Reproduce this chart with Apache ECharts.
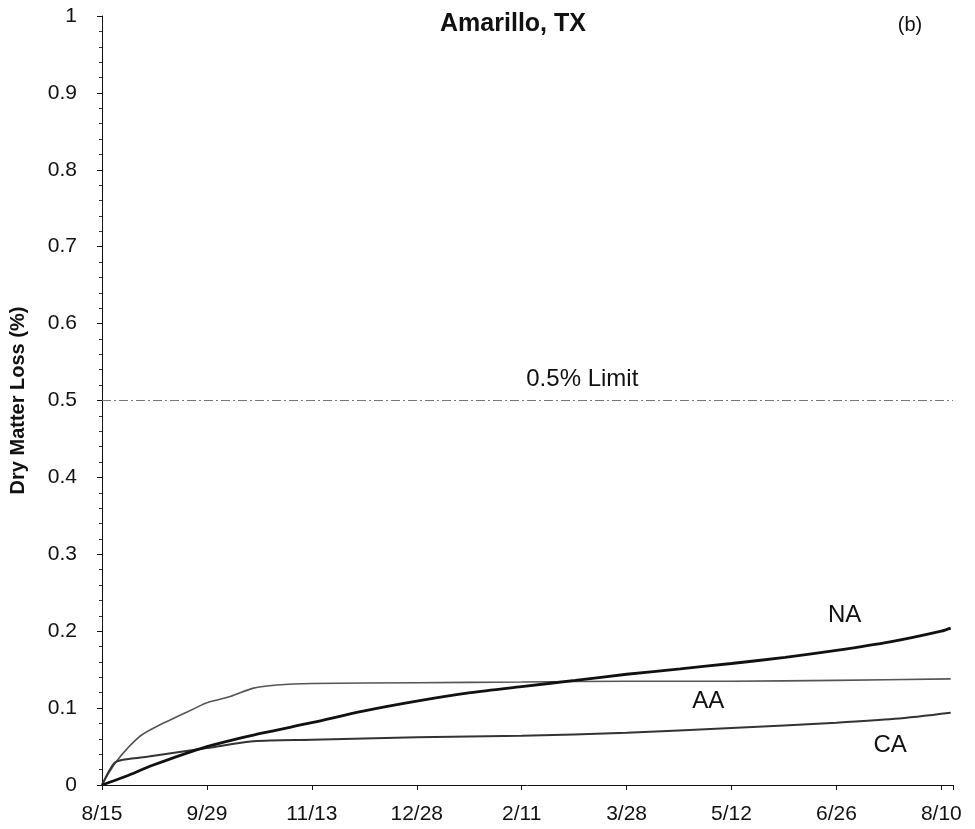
<!DOCTYPE html>
<html>
<head>
<meta charset="utf-8">
<script src="https://cdn.jsdelivr.net/npm/echarts@6/dist/echarts.min.js"></script>
<style>html,body{margin:0;padding:0;background:#fff}#c{width:975px;height:829px}</style>
</head>
<body>
<div id="c"></div>
<script>
// x = days since 8/15
const tickLabels = ['8/15','9/29','11/13','12/28','2/11','3/28','5/12','6/26','8/10'];
const naData = [[0,0],[10,0.011],[22,0.026],[45,0.05],[68,0.067],[90,0.081],[112,0.096],[135,0.109],[158,0.12],[180,0.128],[203,0.136],[225,0.144],[248,0.151],[270,0.158],[293,0.166],[315,0.175],[338,0.186],[360,0.2],[364,0.204]];
const aaData = [[0,0],[3,0.016],[6,0.03],[11,0.048],[17,0.065],[26,0.08],[33,0.09],[40,0.1],[45,0.107],[55,0.115],[65,0.126],[75,0.13],[90,0.132],[135,0.133],[180,0.134],[225,0.135],[270,0.135],[315,0.136],[364,0.138]];
const caData = [[0,0],[3,0.018],[6,0.03],[12,0.034],[20,0.037],[45,0.048],[65,0.057],[90,0.059],[135,0.062],[180,0.064],[225,0.068],[270,0.074],[315,0.081],[340,0.086],[364,0.094]];
const limitData = [[0,0.5],[365,0.5]];

const chart = echarts.init(document.getElementById('c'));
const font = 'Liberation Sans, Arial, sans-serif';
function lbl(name, x, y) {
  return {symbol:'circle', symbolSize:1, silent:true, itemStyle:{color:'rgba(0,0,0,0)'},
    data:[{coord:[x,y],
    label:{show:true, formatter:name, color:'#111', fontSize:24, fontFamily:font, position:'inside'}}]};
}
chart.setOption({
  animation:false,
  backgroundColor:'#fff',
  grid:{left:99, right:22, top:16, bottom:44, containLabel:false},
  graphic:[
    {type:'text', x:513, y:24, style:{text:'Amarillo, TX', font:'bold 25px '+font, fill:'#111', textAlign:'center', textVerticalAlign:'middle'}},
    {type:'text', x:910, y:25, style:{text:'(b)', font:'20px '+font, fill:'#111', textAlign:'center', textVerticalAlign:'middle'}}
  ],
  xAxis:{type:'value', min:0, max:365, interval:45,
    axisLine:{lineStyle:{color:'#111', width:1}},
    axisTick:{show:true, length:5, lineStyle:{color:'#111'}},
    splitLine:{show:false},
    axisLabel:{color:'#111', fontSize:21, fontFamily:font, margin:19,
      formatter:(v)=>{const i=Math.round(v/45); return (v%45===0 && i<tickLabels.length)?tickLabels[i]:'';}}
  },
  yAxis:{type:'value', min:0, max:1, interval:0.1,
    name:'Dry Matter Loss (%)', nameLocation:'middle', nameGap:74, nameRotate:90,
    nameTextStyle:{color:'#111', fontSize:20, fontWeight:'bold', fontFamily:font},
    axisLine:{show:true, lineStyle:{color:'#111', width:1}},
    axisTick:{show:true, length:5, lineStyle:{color:'#111'}},
    minorTick:{show:true, splitNumber:5, length:3, lineStyle:{color:'#333'}},
    splitLine:{show:false},
    axisLabel:{color:'#111', fontSize:21, fontFamily:font, margin:25,
      formatter:(v)=>String(Math.round(v*10)/10)}
  },
  series:[
    {name:'limit', type:'line', data:limitData, symbol:'none', silent:true,
      lineStyle:{color:'#777', width:1.2, type:[9,3,2,3]},
      markPoint:lbl('0.5% Limit', 206, 0.528)},
    {name:'AA', type:'line', data:aaData, symbol:'none', smooth:0.3,
      lineStyle:{color:'#555', width:1.6},
      markPoint:lbl('AA', 260, 0.109)},
    {name:'CA', type:'line', data:caData, symbol:'none', smooth:0.3,
      lineStyle:{color:'#333', width:2},
      markPoint:lbl('CA', 338, 0.051)},
    {name:'NA', type:'line', data:naData, symbol:'none', smooth:0.3,
      lineStyle:{color:'#111', width:2.8},
      markPoint:lbl('NA', 318.5, 0.221)}
  ]
});
</script>
</body>
</html>
